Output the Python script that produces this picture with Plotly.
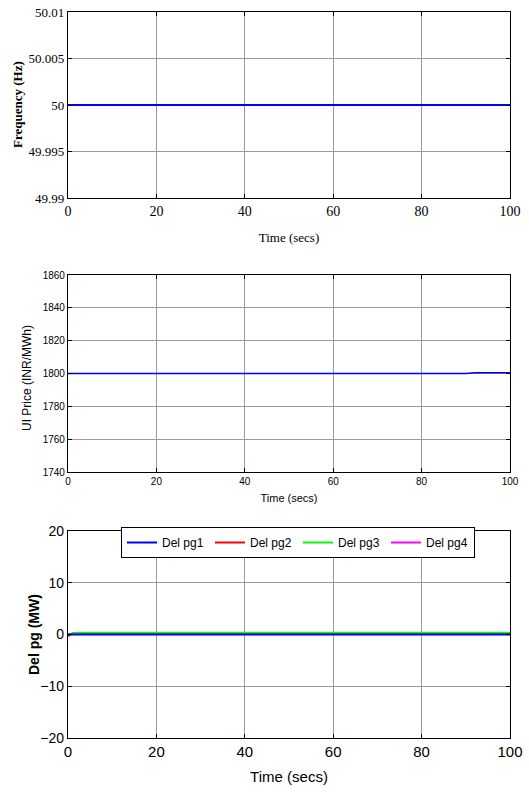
import plotly.graph_objects as go

# ---- data ----
freq_time = [0, 20, 40, 60, 80, 100]
frequency = [50, 50, 50, 50, 50, 50]

price_time = [0, 20, 40, 60, 80, 90, 92, 100]
ui_price = [1800, 1800, 1800, 1800, 1800, 1800, 1800.5, 1800.5]

pg_time = [0, 1, 2, 20, 40, 60, 80, 100]
del_pg1 = [0, 0, 0, 0, 0, 0, 0, 0]
del_pg2 = [-0.3, 0.2, 0.3, 0.3, 0.3, 0.3, 0.3, 0.3]
del_pg3 = [0, 0.25, 0.35, 0.35, 0.35, 0.35, 0.35, 0.35]
del_pg4 = [0, 0.2, 0.3, 0.3, 0.3, 0.3, 0.3, 0.3]

x_ticks = [0, 20, 40, 60, 80, 100]
freq_ticks = [49.99, 49.995, 50, 50.005, 50.01]
freq_ticklabels = ["49.99", "49.995", "50", "50.005", "50.01"]
price_ticks = [1740, 1760, 1780, 1800, 1820, 1840, 1860]
pg_ticks = [-20, -10, 0, 10, 20]

SERIF = "Liberation Serif, Times New Roman, serif"
SANS = "Liberation Sans, Arial, sans-serif"

fig = go.Figure()

fig.add_trace(go.Scatter(x=freq_time, y=frequency, mode="lines",
                         line=dict(color="#0000ff", width=2),
                         xaxis="x", yaxis="y", showlegend=False))
fig.add_trace(go.Scatter(x=price_time, y=ui_price, mode="lines",
                         line=dict(color="#0000ff", width=1.6),
                         xaxis="x2", yaxis="y2", showlegend=False))

# draw order so blue and green remain visible; legend order via legendrank
fig.add_trace(go.Scatter(x=pg_time, y=del_pg4, mode="lines", name="Del pg4",
                         line=dict(color="#ff00ff", width=2), legendrank=4,
                         xaxis="x3", yaxis="y3"))
fig.add_trace(go.Scatter(x=pg_time, y=del_pg2, mode="lines", name="Del pg2",
                         line=dict(color="#ff0000", width=2), legendrank=2,
                         xaxis="x3", yaxis="y3"))
fig.add_trace(go.Scatter(x=pg_time, y=del_pg3, mode="lines", name="Del pg3",
                         line=dict(color="#00ff00", width=2), legendrank=3,
                         xaxis="x3", yaxis="y3"))
fig.add_trace(go.Scatter(x=pg_time, y=del_pg1, mode="lines", name="Del pg1",
                         line=dict(color="#0000ff", width=2), legendrank=1,
                         xaxis="x3", yaxis="y3"))

W, H = 529, 794
xdom = [68 / W, 510 / W]


def ydom(top, bottom):
    return [1 - bottom / H, 1 - top / H]


axis_common = dict(showline=True, linecolor="black", linewidth=1.2, mirror="allticks",
                   ticks="inside", ticklen=4, tickcolor="black",
                   showgrid=True, gridcolor="#9a9a9a", gridwidth=1,
                   zeroline=False, automargin=False)

layout = dict(
    width=W, height=H,
    margin=dict(l=0, r=0, t=0, b=0),
    paper_bgcolor="white", plot_bgcolor="white",
    showlegend=True,
    legend=dict(orientation="h", x=121 / W, y=1 - 527 / H, xanchor="left", yanchor="top",
                bgcolor="white", bordercolor="black", borderwidth=1,
                font=dict(family=SANS, size=12, color="black"),
                entrywidth=43, entrywidthmode="pixels", traceorder="normal",
                itemwidth=30),
    xaxis=dict(axis_common, domain=xdom, anchor="y", range=[0, 100], tickvals=x_ticks,
               tickfont=dict(family=SERIF, size=14, color="black"),
               title=dict(text="Time (secs)", font=dict(family=SERIF, size=13, color="black"),
                          standoff=14)),
    yaxis=dict(axis_common, domain=ydom(12, 198), anchor="x", range=[49.99, 50.01],
               tickvals=freq_ticks, ticktext=freq_ticklabels,
               tickfont=dict(family=SERIF, size=13, color="black")),
    xaxis2=dict(axis_common, domain=xdom, anchor="y2", range=[0, 100], tickvals=x_ticks,
                tickfont=dict(family=SANS, size=10, color="black"),
                title=dict(text="Time (secs)", font=dict(family=SANS, size=11, color="black"),
                           standoff=8)),
    yaxis2=dict(axis_common, domain=ydom(275, 472), anchor="x2", range=[1740, 1860],
                tickvals=price_ticks,
                tickfont=dict(family=SANS, size=10, color="black")),
    xaxis3=dict(axis_common, domain=xdom, anchor="y3", range=[0, 100], tickvals=x_ticks,
                tickfont=dict(family=SANS, size=15, color="black"),
                title=dict(text="Time (secs)", font=dict(family=SANS, size=15, color="black"),
                           standoff=12)),
    yaxis3=dict(axis_common, domain=ydom(531, 738), anchor="x3", range=[-20, 20],
                tickvals=pg_ticks,
                tickfont=dict(family=SANS, size=14, color="black")),
    annotations=[
        dict(text="<b>Frequency (Hz)</b>", textangle=-90, xref="paper", yref="paper",
             x=17 / W, y=1 - 105 / H, xanchor="center", yanchor="middle", showarrow=False,
             font=dict(family=SERIF, size=13, color="black")),
        dict(text="UI Price (INR/MWh)", textangle=-90, xref="paper", yref="paper",
             x=27 / W, y=1 - 378 / H, xanchor="center", yanchor="middle", showarrow=False,
             font=dict(family=SANS, size=12, color="black")),
        dict(text="<b>Del pg (MW)</b>", textangle=-90, xref="paper", yref="paper",
             x=34 / W, y=1 - 635 / H, xanchor="center", yanchor="middle", showarrow=False,
             font=dict(family=SANS, size=14, color="black")),
    ],
)
fig.update_layout(**layout)

fig.write_html("out.html")
